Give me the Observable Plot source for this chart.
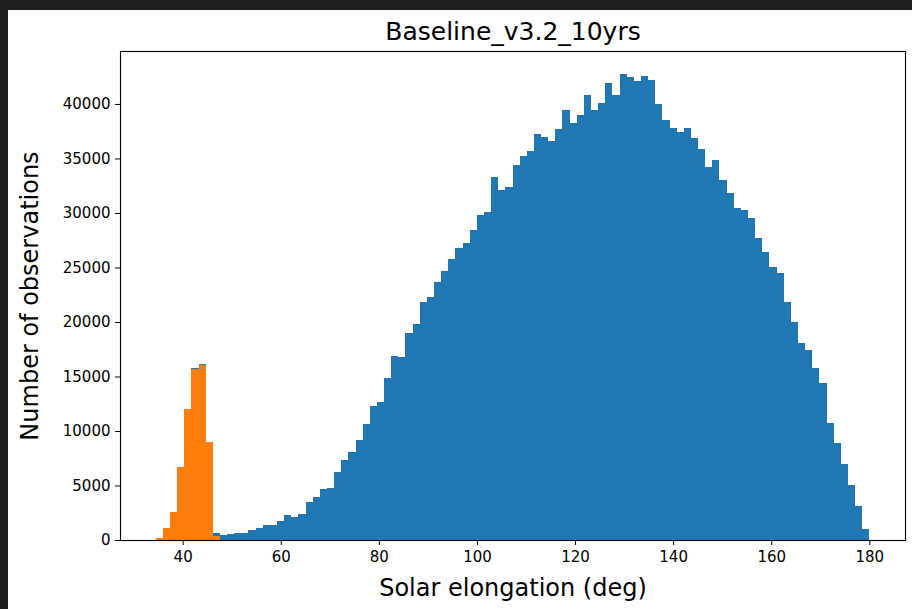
<!DOCTYPE html>
<html><head><meta charset="utf-8">
<script src="https://cdn.jsdelivr.net/npm/d3@7"></script>
<script src="https://cdn.jsdelivr.net/npm/@observablehq/plot@0.6"></script>
<style>
html,body{margin:0;padding:0;background:#1f1f1f;width:912px;height:609px;overflow:hidden;}
#wrap{position:absolute;left:8px;top:10px;width:904px;height:599px;background:#fff;}
</style></head><body><div id="wrap"></div>
<script>
const title = "Baseline_v3.2_10yrs";
const xLabel = "Solar elongation (deg)";
const yLabel = "Number of observations";
const binStart = 34.5;
const binWidth = 1.455;
const allCounts = [
  150, 1100, 2590, 6700, 12040, 15800, 16150, 8990, 680, 430,
  520, 610, 670, 910, 1070, 1340, 1350, 1770, 2290, 2130,
  2380, 3500, 3900, 4720, 4810, 6240, 7380, 8070, 9140, 10670,
  12250, 12640, 14870, 16910, 16760, 18990, 19810, 21850, 22330, 23670,
  24680, 25750, 26810, 27270, 28400, 29800, 30070, 33270, 32150, 32360,
  34430, 35250, 35650, 37230, 36930, 36560, 37690, 39460, 38240, 39000,
  40830, 39460, 40070, 41900, 40830, 42720, 42500, 42110, 42570, 42200,
  40010, 38540, 37780, 37390, 37780, 36870, 35860, 34190, 34890, 33030,
  31870, 30440, 30240, 29560, 27680, 26430, 25050, 24450, 21790, 20020,
  18070, 17430, 15790, 14380, 10760, 8930, 6950, 5090, 3110, 1010
];
const subsetCounts = [150, 1100, 2590, 6700, 12040, 15690, 16060, 8990, 400];
const xTicks = [40, 60, 80, 100, 120, 140, 160, 180];
const yTicks = [0, 5000, 10000, 15000, 20000, 25000, 30000, 35000, 40000];

const allRows = allCounts.map((c, i) => ({x1: binStart + i * binWidth, x2: binStart + (i + 1) * binWidth, y: c}));
const subRows = subsetCounts.map((c, i) => ({x1: binStart + i * binWidth, x2: binStart + (i + 1) * binWidth, y: c}));
const xMin = binStart, xMax = binStart + allCounts.length * binWidth;
const xPad = (xMax - xMin) * 0.05;
const yMax = d3.max(allCounts) * 1.05;

const chart = Plot.plot({
  width: 904,
  height: 599,
  marginLeft: 112,
  marginRight: 7,
  marginTop: 41,
  marginBottom: 69,
  style: {fontFamily: "DejaVu Sans", fontSize: "15px", background: "white", color: "black", overflow: "visible"},
  x: {domain: [xMin - xPad, xMax + xPad]},
  y: {domain: [0, yMax]},
  marks: [
    Plot.rectY(allRows, {x1: "x1", x2: "x2", y: "y", fill: "#1f77b4", inset: 0, shapeRendering: "crispEdges"}),
    Plot.rectY(subRows, {x1: "x1", x2: "x2", y: "y", fill: "#ff7f0e", inset: 0, shapeRendering: "crispEdges"}),
    Plot.frame({stroke: "black", strokeWidth: 1.1}),
    Plot.axisX({ticks: xTicks, tickSize: 5, tickPadding: 6, tickFormat: d => String(d), label: null, fontSize: 15}),
    Plot.axisY({ticks: yTicks, tickSize: 5, tickPadding: 5, tickFormat: d => String(d), label: null, fontSize: 15}),
    Plot.text([title], {frameAnchor: "top", text: d => d, dy: -20, fontSize: 25, lineAnchor: "middle"}),
    Plot.text([xLabel], {frameAnchor: "bottom", text: d => d, dy: 48, fontSize: 24, lineAnchor: "middle"}),
    Plot.text([yLabel], {frameAnchor: "left", text: d => d, dx: -90, rotate: -90, fontSize: 24, textAnchor: "middle", lineAnchor: "middle"})
  ]
});
document.getElementById("wrap").appendChild(chart);
</script></body></html>
